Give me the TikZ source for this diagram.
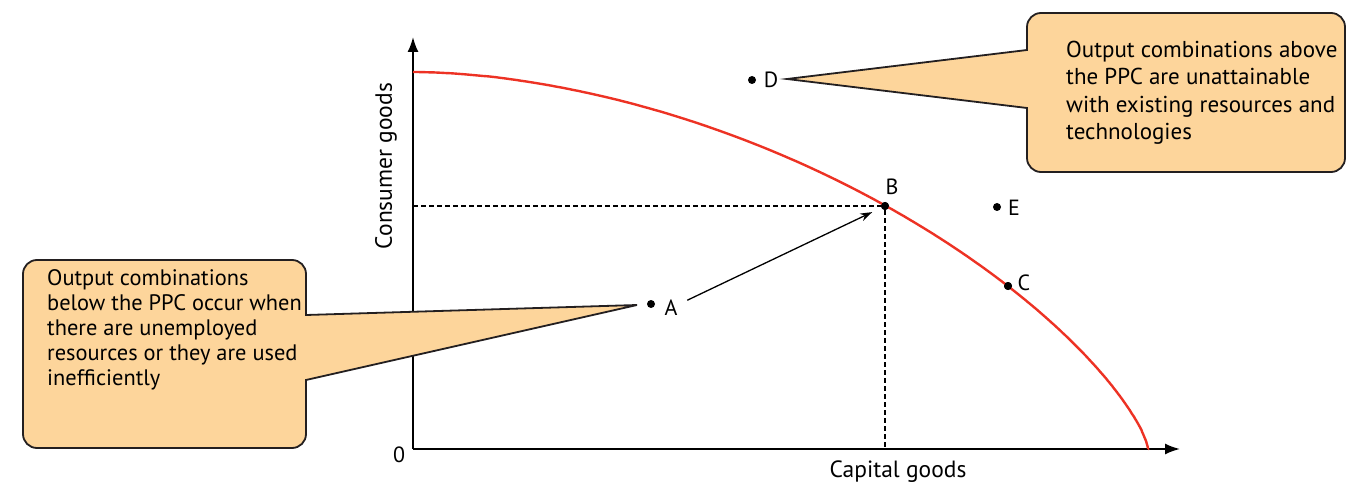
\documentclass[tikz,border=0pt]{standalone}
\usepackage{fontspec}
\setmainfont{PT Sans}
\usetikzlibrary{arrows.meta}
\definecolor{callfill}{RGB}{253,213,155}
\definecolor{ppcred}{RGB}{237,50,36}
\definecolor{edgecol}{RGB}{35,31,32}
\begin{document}
\begin{tikzpicture}[x=1pt,y=1pt,
  axis/.style={line width=1.8pt, -{Latex[length=15pt,width=11pt]}},
  ppc/.style={ppcred, line width=2.4pt},
  guide/.style={line width=1.5pt, dash pattern=on 5pt off 3pt},
  dot/.style={circle, fill=black, inner sep=0pt, minimum size=8pt},
  lab/.style={font=\fontsize{22}{26}\selectfont, inner sep=0pt},
  axlab/.style={font=\fontsize{23.5}{28}\selectfont, inner sep=0pt},
  callout/.style={fill=callfill, draw=edgecol, line width=1.8pt, line join=miter},
  calltext/.style={align=left, inner sep=0pt, anchor=west},
  pointer/.style={line width=1.3pt, -{Stealth[length=12pt,width=8pt]}}]
\useasboundingbox (0,0) rectangle (1348,485);
% axes
\coordinate (O) at (413,36);
\coordinate (Ytip) at (413,448);
\coordinate (Xtip) at (1180,36);
\draw[axis] (O) -- (Ytip);
\draw[axis] (O) -- (Xtip);
\node[lab] (zero) at (399,30) {0};
\node[axlab, rotate=90] (ylab) at (386,319) {Consumer goods};
\node[axlab] (xlab) at (898,13) {Capital goods};
% points
\node[dot] (B) at (885,279) {};
\node[dot] (A) at (651,181) {};
\node[dot] (C) at (1008,199) {};
\node[dot] (D) at (752,405) {};
\node[dot] (E) at (997,278) {};
\node[lab] (Blab) at (892,298) {B};
\node[lab] (Alab) at (671,177) {A};
\node[lab] (Clab) at (1024,202) {C};
\node[lab] (Dlab) at (771,405) {D};
\node[lab] (Elab) at (1014,277) {E};
% guides
\coordinate (By) at (O|-B);
\coordinate (Bx) at (B|-O);
\draw[guide] (By) -- (B);
\draw[guide] (B) -- (Bx);
% PPC
\coordinate (Pstart) at (413,413);
\coordinate (Pend) at (1148,36);
\draw[ppc] (Pstart) -- plot[domain=0.1:89.9, samples=240] ({413+735*pow(sin(\x),1.111)}, {36+377*pow(cos(\x),1.46)}) -- (Pend);
\node[dot] at (B) {};
\node[dot] at (C) {};
% arrow A -> B
\draw[pointer, shorten <=18pt, shorten >=10pt] (Alab.center) -- (B);
% callout top right
\draw[callout] (1027,435) -- (1027,458) arc[start angle=180,end angle=90,radius=14] -- (1331,472) arc[start angle=90,end angle=0,radius=14] -- (1345,327) arc[start angle=0,end angle=-90,radius=14] -- (1041,313) arc[start angle=-90,end angle=-180,radius=14] -- (1027,377) -- (787,406) -- cycle;
\node[calltext, font=\fontsize{23}{27.5}\selectfont] (t1) at (1066,392) {Output combinations above\\the PPC are unattainable\\with existing resources and\\technologies};
% callout left
\draw[callout] (306,170) -- (637,180) -- (306,105) -- (306,51) arc[start angle=0,end angle=-90,radius=14] -- (37,37) arc[start angle=-90,end angle=-180,radius=14] -- (23,211) arc[start angle=180,end angle=90,radius=14] -- (292,225) arc[start angle=90,end angle=0,radius=14] -- cycle;
\node[calltext, font=\fontsize{22.4}{25}\selectfont] (t2) at (47,155) {Output combinations\\below the PPC occur when\\there are unemployed\\resources or they are used\\inefficiently};
\end{tikzpicture}
\end{document}
